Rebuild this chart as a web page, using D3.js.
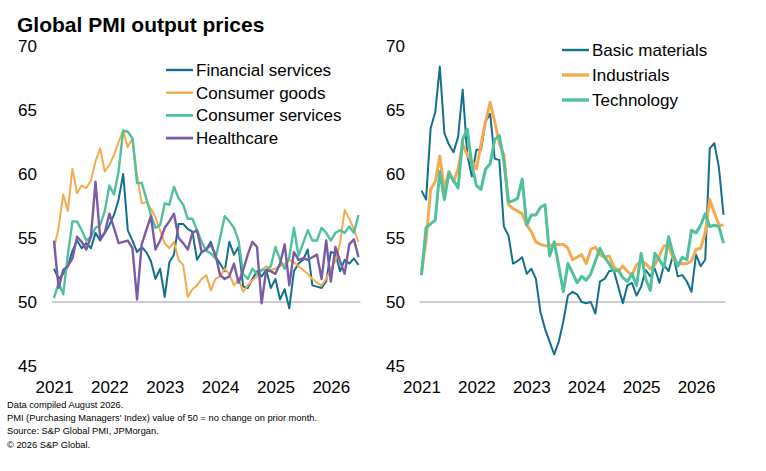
<!DOCTYPE html>
<html>
<head>
<meta charset="utf-8">
<script src="https://cdn.jsdelivr.net/npm/d3@7"></script>
<style>
  body { margin: 0; background: #fff; }
  svg { font-family: "Liberation Sans", Arial, sans-serif; }
</style>
</head>
<body>
<svg id="chart" width="766" height="471"></svg>
<script>
// monthly index values, Jan 2021 .. Jul 2026
const yearLabels = ['2021', '2022', '2023', '2024', '2025', '2026'];
const yTicks = [45, 50, 55, 60, 65, 70];

const financialServices = [
  52.6, 51.8, 52.2, 52.8, 54.0, 54.8, 54.2, 54.6, 54.2, 55.4,
  54.8, 55.4, 56.0, 56.8, 58.0, 60.0, 55.6, 54.8, 53.9, 54.3,
  53.9, 53.2, 51.8, 52.6, 50.4, 53.1, 53.7, 56.1, 56.1, 55.7,
  55.5, 53.3, 53.9, 54.1, 54.7, 53.5, 53.0, 52.4, 54.7, 53.7,
  54.3, 51.2, 51.1, 51.8, 52.4, 52.0, 52.5, 51.1, 51.8, 50.2,
  51.0, 49.5, 52.4, 53.0, 53.3, 54.1, 51.3, 51.2, 51.1, 51.6,
  53.9, 53.8, 52.4, 53.3, 53.0, 53.4, 52.9
];
const consumerGoods = [
  54.2, 55.8, 58.4, 57.1, 60.4, 58.5, 59.1, 58.9, 59.5, 61.0,
  62.0, 60.2, 60.7, 61.5, 62.5, 63.4, 62.1, 62.8, 59.9, 57.7,
  57.8, 57.3, 56.6, 55.6, 54.6, 54.2, 54.7, 53.3, 52.9, 50.4,
  51.0, 51.3, 51.8, 52.1, 50.9, 51.8, 52.0, 52.6, 52.2, 51.3,
  51.8, 50.8, 51.3, 51.7, 52.0, 52.5, 52.8, 52.5, 52.6, 52.8,
  53.0, 53.3, 53.1, 52.8, 52.5, 52.2, 51.8, 51.5, 51.3, 51.8,
  52.6, 53.2, 54.6, 57.2, 56.5, 55.7, 54.7
];
const consumerServices = [
  50.3, 51.5, 50.6, 53.7, 56.3, 56.3, 55.6, 54.8, 55.1, 55.8,
  56.0, 57.1, 59.1, 58.4, 60.2, 63.4, 63.3, 62.8, 59.3, 59.3,
  58.1, 56.8, 55.8, 56.0, 57.7, 57.6, 59.0, 58.1, 57.6, 56.5,
  56.5, 55.6, 54.7, 54.0, 53.8, 53.4, 55.0, 56.7, 56.3, 55.8,
  54.8, 52.2, 51.8, 52.6, 52.2, 52.5, 52.5, 52.8, 54.3, 53.3,
  52.6, 53.5, 55.8, 53.6, 54.6, 55.6, 54.8, 54.8, 55.8, 55.4,
  54.8, 55.4, 55.6, 55.4, 55.9, 55.4, 56.8
];
const healthcare = [
  54.8, 51.1, 52.5, 52.8, 53.4, 55.1, 54.7, 54.1, 55.1, 59.4,
  55.0, 55.4, 56.9, 55.8, 54.6, 54.7, 54.8, 54.2, 50.2, 54.5,
  55.6, 56.7, 54.1, 54.8, 55.8, 56.3, 56.9, 55.0, 54.6, 54.1,
  55.4, 55.6, 53.9, 54.1, 54.5, 53.7, 52.1, 51.8, 52.0, 53.0,
  51.5, 52.5, 53.7, 54.7, 54.3, 49.9, 52.5, 52.4, 52.2, 53.0,
  54.5, 51.3, 53.9, 53.3, 53.4, 53.3, 53.5, 53.7, 51.8, 54.8,
  51.6, 54.3, 53.2, 52.2, 54.5, 54.9, 53.5
];
const basicMaterials = [
  58.7, 58.0, 63.6, 64.8, 68.4, 63.2, 62.3, 61.7, 62.9, 66.6,
  61.5, 59.8, 61.9, 61.9, 64.1, 64.7, 61.2, 61.1, 55.9, 55.2,
  53.0, 53.2, 53.5, 52.2, 52.6, 51.8, 49.2, 47.9, 46.9, 45.9,
  46.9, 48.5, 50.5, 50.8, 50.6, 50.0, 49.9, 50.0, 49.1, 51.6,
  51.8, 52.4, 52.5, 51.2, 49.9, 51.3, 51.5, 50.5, 51.2, 52.5,
  52.0, 52.6, 51.5, 52.9, 52.4, 53.7, 52.0, 52.1, 51.6, 50.8,
  53.7, 52.8, 53.3, 62.0, 62.4, 60.5, 56.8
];
const industrials = [
  52.4, 54.8, 58.8, 59.4, 61.4, 58.8, 60.2, 59.4, 60.4, 62.3,
  61.5, 61.0, 60.4, 62.3, 64.1, 65.6, 64.1, 62.4, 61.5, 57.6,
  57.3, 57.1, 56.9, 56.0, 55.5, 54.7, 54.5, 54.4, 54.4, 54.5,
  54.5, 54.5, 54.2, 53.3, 53.5, 53.7, 53.0, 54.1, 54.3, 53.7,
  53.5, 53.6, 52.8, 52.4, 52.8, 52.4, 52.1, 52.9, 53.2, 53.0,
  52.6, 52.9, 53.6, 54.4, 54.4, 53.4, 52.9, 53.0, 53.0, 53.2,
  54.1, 54.2, 55.4, 58.0, 57.0, 56.0, 56.0
];
const technology = [
  52.1, 55.8, 56.1, 56.4, 60.2, 58.0, 60.1, 59.5, 58.9, 62.7,
  63.5, 60.7, 59.1, 58.8, 60.4, 60.8, 62.7, 63.0, 61.0, 57.8,
  57.9, 58.1, 59.6, 56.0, 56.8, 56.8, 57.4, 57.6, 53.6, 54.7,
  52.8, 50.8, 53.0, 52.3, 51.5, 52.0, 51.7, 52.2, 53.2, 54.2,
  53.5, 53.0, 52.4, 52.5, 51.9, 51.6, 52.2, 51.3, 53.8, 51.8,
  50.9, 53.8, 53.3, 52.7, 55.1, 53.7, 52.8, 53.5, 53.3, 55.6,
  55.4, 56.0, 56.9, 55.9, 56.0, 55.9, 54.6
];

const BLUE = '#136f8e', ORANGE = '#f6aa4e', GREEN = '#50c09d', PURPLE = '#7b5ba5';

const svg = d3.select('#chart');

svg.append('text')
  .attr('x', 17).attr('y', 32)
  .attr('font-size', 21).attr('font-weight', 'bold').attr('fill', '#000')
  .text('Global PMI output prices');

const y = d3.scaleLinear().domain([45, 70]).range([366, 46]);

function drawPanel(p) {
  const g = svg.append('g');
  const x = d3.scaleLinear().domain([0, p.series[0].values.length - 1]).range(p.xRange);

  // 50 = no change line
  g.append('line')
    .attr('x1', p.xRange[0] - 2).attr('x2', p.xRange[1] + 2)
    .attr('y1', y(50)).attr('y2', y(50))
    .attr('stroke', '#bdbdbd').attr('stroke-width', 1.6);

  const yAxis = g.append('g')
    .attr('transform', `translate(${p.yAxisX},0)`)
    .call(d3.axisLeft(y).tickValues(yTicks).tickSize(0).tickPadding(3));
  yAxis.select('.domain').remove();
  yAxis.selectAll('text').attr('font-size', 17).attr('fill', '#000')
    .attr('font-family', '"Liberation Sans", Arial, sans-serif');

  const xAxis = g.append('g')
    .attr('transform', 'translate(0,378)')
    .call(d3.axisBottom(x).tickValues([0, 12, 24, 36, 48, 60])
      .tickFormat((d, i) => yearLabels[i]).tickSize(0).tickPadding(3));
  xAxis.select('.domain').remove();
  xAxis.selectAll('text').attr('font-size', 17).attr('fill', '#000')
    .attr('font-family', '"Liberation Sans", Arial, sans-serif');

  const line = d3.line().x((d, i) => x(i)).y(d => y(d));
  p.series.forEach(s => {
    g.append('path')
      .datum(s.values)
      .attr('d', line)
      .attr('fill', 'none')
      .attr('stroke', s.color)
      .attr('stroke-width', s.width)
      .attr('stroke-linejoin', 'round');
  });

  const leg = g.append('g');
  p.series.forEach((s, i) => {
    const ly = p.legendY + i * p.legendStep;
    leg.append('line')
      .attr('x1', p.legendX).attr('x2', p.legendX + 27)
      .attr('y1', ly).attr('y2', ly)
      .attr('stroke', s.color).attr('stroke-width', s.width + 0.4);
    leg.append('text')
      .attr('x', p.legendX + 30).attr('y', ly)
      .attr('dy', '0.35em')
      .attr('font-size', 17).attr('fill', '#000')
      .text(s.name);
  });
}

drawPanel({
  xRange: [54, 358.5],
  yAxisX: 40,
  legendX: 166, legendY: 70, legendStep: 22.7,
  series: [
    { name: 'Financial services', values: financialServices, color: BLUE, width: 2 },
    { name: 'Consumer goods', values: consumerGoods, color: ORANGE, width: 2 },
    { name: 'Consumer services', values: consumerServices, color: GREEN, width: 2.4 },
    { name: 'Healthcare', values: healthcare, color: PURPLE, width: 2.4 }
  ]
});

drawPanel({
  xRange: [421.5, 723.5],
  yAxisX: 408,
  legendX: 562, legendY: 50, legendStep: 25,
  series: [
    { name: 'Basic materials', values: basicMaterials, color: BLUE, width: 2 },
    { name: 'Industrials', values: industrials, color: ORANGE, width: 3 },
    { name: 'Technology', values: technology, color: GREEN, width: 3 }
  ]
});

const notes = [
  'Data compiled August 2026.',
  "PMI (Purchasing Managers' Index) value of 50 = no change on prior month.",
  'Source: S&P Global PMI, JPMorgan.',
  '\u00a9 2026 S&P Global.'
];
svg.append('g').selectAll('text')
  .data(notes)
  .join('text')
  .attr('x', 7)
  .attr('y', (d, i) => 408 + i * 13.2)
  .attr('font-size', 9.3)
  .attr('fill', '#000')
  .text(d => d);
</script>
</body>
</html>
